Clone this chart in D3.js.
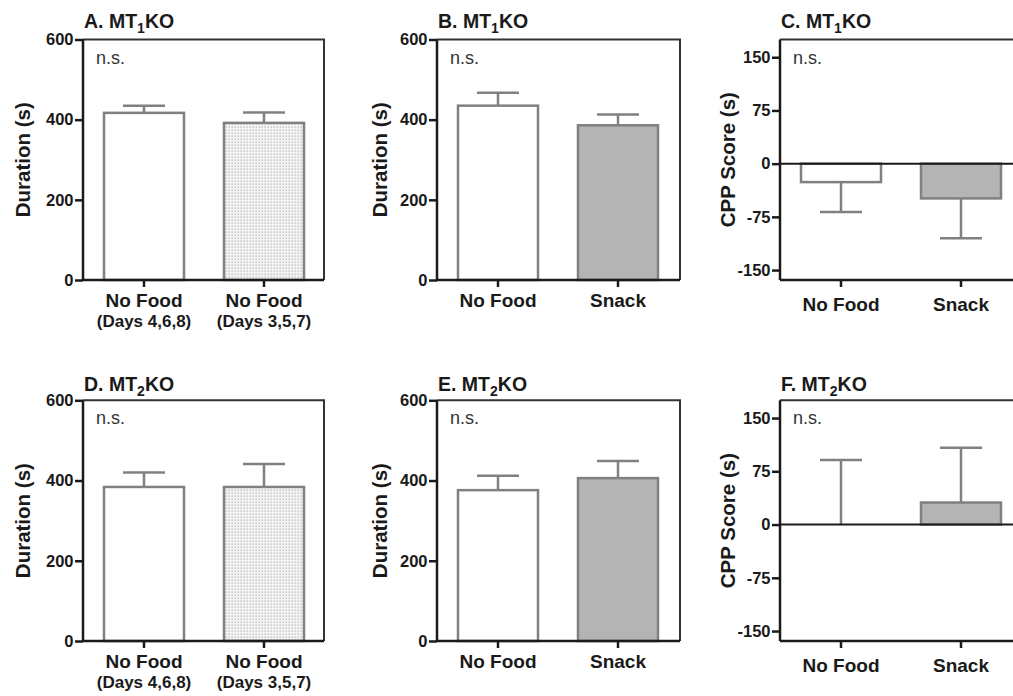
<!DOCTYPE html>
<html>
<head>
<meta charset="utf-8">
<script src="https://cdn.jsdelivr.net/npm/d3@7"></script>
<style>
  html, body { margin: 0; padding: 0; background: #fff; }
  svg { display: block; font-family: "Liberation Sans", Arial, Helvetica, sans-serif; }
</style>
</head>
<body>
<svg id="chart" width="1013" height="696"></svg>
<script>
// ---------------- data ----------------
const panelLetters = ["A", "B", "C", "D", "E", "F"];
const panelSubs = ["1", "1", "1", "2", "2", "2"];
const categoriesDays = ["No Food", "No Food"];
const categoriesDaysSub = ["(Days 4,6,8)", "(Days 3,5,7)"];
const categoriesSnack = ["No Food", "Snack"];

const meansA = [417, 392], semA = [18, 26];
const meansB = [435, 386], semB = [32, 27];
const meansC = [-26, -49], semC = [42, 56];
const meansD = [384, 384], semD = [36, 57];
const meansE = [376, 406], semE = [36, 43];
const meansF = [0, 31], semF = [91, 77];

const durationTicks = [0, 200, 400, 600];
const cppTicks = [-150, -75, 0, 75, 150];
const durationDomain = [0, 600];
const cppDomain = [-164, 175];
const yTitleDuration = "Duration (s)";
const yTitleCPP = "CPP Score (s)";
const sigText = "n.s.";

// ---------------- layout ----------------
const cols = [
  { x0: 83, w: 241, yTitleOff: 53, catOff: 27 },
  { x0: 437, w: 243, yTitleOff: 50, catOff: 27 },
  { x0: 780, w: 240, yTitleOff: 45, catOff: 31 }
];
const rows = [
  { top: 39.5, bottom: 280, titleGap: 12 },
  { top: 400.3, bottom: 641, titleGap: 9.5 }
];

const panels = [
  { means: meansA, sem: semA, cats: categoriesDays, subs: categoriesDaysSub, fills: ["white", "dots"], domain: durationDomain, ticks: durationTicks, ytitle: yTitleDuration },
  { means: meansB, sem: semB, cats: categoriesSnack, subs: null, fills: ["white", "gray"], domain: durationDomain, ticks: durationTicks, ytitle: yTitleDuration },
  { means: meansC, sem: semC, cats: categoriesSnack, subs: null, fills: ["white", "gray"], domain: cppDomain, ticks: cppTicks, ytitle: yTitleCPP },
  { means: meansD, sem: semD, cats: categoriesDays, subs: categoriesDaysSub, fills: ["white", "dots"], domain: durationDomain, ticks: durationTicks, ytitle: yTitleDuration },
  { means: meansE, sem: semE, cats: categoriesSnack, subs: null, fills: ["white", "gray"], domain: durationDomain, ticks: durationTicks, ytitle: yTitleDuration },
  { means: meansF, sem: semF, cats: categoriesSnack, subs: null, fills: ["white", "gray"], domain: cppDomain, ticks: cppTicks, ytitle: yTitleCPP }
];

const barStroke = "#808080";
const grayFill = "#b4b4b4";
const axisColor = "#1a1a1a";

const svg = d3.select("#chart");

// dotted pattern
const defs = svg.append("defs");
const pat = defs.append("pattern").attr("id", "dots")
  .attr("width", 3).attr("height", 3).attr("patternUnits", "userSpaceOnUse");
pat.append("rect").attr("width", 3).attr("height", 3).attr("fill", "#f4f4f4");
pat.append("rect").attr("x", 0.5).attr("y", 0.5).attr("width", 1.3).attr("height", 1.3).attr("fill", "#b8b8b8");

function fillFor(f) {
  if (f === "dots") return "url(#dots)";
  if (f === "gray") return grayFill;
  return "#ffffff";
}

panels.forEach((p, i) => {
  const c = cols[i % 3], r = rows[Math.floor(i / 3)];
  const g = svg.append("g");
  const x = d3.scaleBand().domain(d3.range(p.cats.length))
    .range([c.x0 + 1, c.x0 + 241]).paddingInner(1 / 3).paddingOuter(1 / 6);
  const y = d3.scaleLinear().domain(p.domain).range([r.bottom, r.top]);
  const bw = x.bandwidth();
  const capW = 42;

  // bars
  p.means.forEach((m, k) => {
    const y0 = y(0), y1 = y(m);
    g.append("rect")
      .attr("x", x(k)).attr("width", bw)
      .attr("y", Math.min(y0, y1)).attr("height", Math.abs(y1 - y0))
      .attr("fill", fillFor(p.fills[k]))
      .attr("stroke", barStroke).attr("stroke-width", 2.5);
  });
  // error bars (one-sided, away from zero)
  p.means.forEach((m, k) => {
    const cx = x(k) + bw / 2;
    const dir = m < 0 ? -1 : 1;
    const yEnd = y(m + dir * p.sem[k]);
    g.append("line").attr("x1", cx).attr("x2", cx)
      .attr("y1", y(m)).attr("y2", yEnd)
      .attr("stroke", barStroke).attr("stroke-width", 2.5);
    g.append("line").attr("x1", cx - capW / 2).attr("x2", cx + capW / 2)
      .attr("y1", yEnd).attr("y2", yEnd)
      .attr("stroke", barStroke).attr("stroke-width", 2.5);
  });

  // frame (top & right)
  g.append("path")
    .attr("d", `M${c.x0},${r.top}H${c.x0 + c.w}V${r.bottom}`)
    .attr("fill", "none").attr("stroke", "#333").attr("stroke-width", 2);
  // zero line for CPP panels
  if (p.domain[0] < 0) {
    g.append("line").attr("x1", c.x0).attr("x2", c.x0 + c.w)
      .attr("y1", y(0)).attr("y2", y(0))
      .attr("stroke", axisColor).attr("stroke-width", 2);
  }
  // bottom axis line
  g.append("line").attr("x1", c.x0).attr("x2", c.x0 + c.w)
    .attr("y1", r.bottom).attr("y2", r.bottom)
    .attr("stroke", axisColor).attr("stroke-width", 2.5);

  // y axis
  const ya = g.append("g").attr("transform", `translate(${c.x0},0)`)
    .call(d3.axisLeft(y).tickValues(p.ticks).tickSize(8).tickPadding(1.5).tickFormat(d => String(d)));
  ya.select(".domain").attr("stroke", axisColor).attr("stroke-width", 2.5)
    .attr("d", `M0,${r.top}V${r.bottom}`);
  ya.selectAll(".tick line").attr("stroke", axisColor).attr("stroke-width", 2.5);
  ya.selectAll(".tick text").attr("font-size", 16.5).attr("font-weight", "bold")
    .attr("fill", "#1a1a1a").attr("font-family", "Liberation Sans, Arial, sans-serif");

  // x axis ticks
  const xa = g.append("g").attr("transform", `translate(0,${r.bottom})`)
    .call(d3.axisBottom(x).tickSize(7).tickFormat(""));
  xa.select(".domain").remove();
  xa.selectAll(".tick line").attr("stroke", axisColor).attr("stroke-width", 2.5);

  // category labels
  p.cats.forEach((cat, k) => {
    const cx = x(k) + bw / 2;
    g.append("text").attr("x", cx).attr("y", r.bottom + c.catOff)
      .attr("text-anchor", "middle").attr("font-size", 19).attr("font-weight", "bold")
      .attr("fill", "#1a1a1a").text(cat);
    if (p.subs) {
      g.append("text").attr("x", cx).attr("y", r.bottom + 47)
        .attr("text-anchor", "middle").attr("font-size", 17).attr("font-weight", "bold")
        .attr("fill", "#1a1a1a").text(p.subs[k]);
    }
  });

  // y title
  g.append("text")
    .attr("transform", `translate(${c.x0 - c.yTitleOff},${(r.top + r.bottom) / 2}) rotate(-90)`)
    .attr("text-anchor", "middle").attr("font-size", 20.5).attr("font-weight", "bold")
    .attr("fill", "#1a1a1a").text(p.ytitle);

  // panel title
  const t = g.append("text").attr("x", c.x0 + 1).attr("y", r.top - r.titleGap)
    .attr("font-size", 19.5).attr("font-weight", "bold").attr("fill", "#1a1a1a");
  t.append("tspan").text(panelLetters[i] + ". MT");
  t.append("tspan").attr("font-size", 14).attr("dy", 5).text(panelSubs[i]);
  t.append("tspan").attr("dy", -5).text("KO");

  // n.s.
  g.append("text").attr("x", c.x0 + 13).attr("y", r.top + 24)
    .attr("font-size", 18).attr("fill", "#333").text(sigText);
});
</script>
</body>
</html>
